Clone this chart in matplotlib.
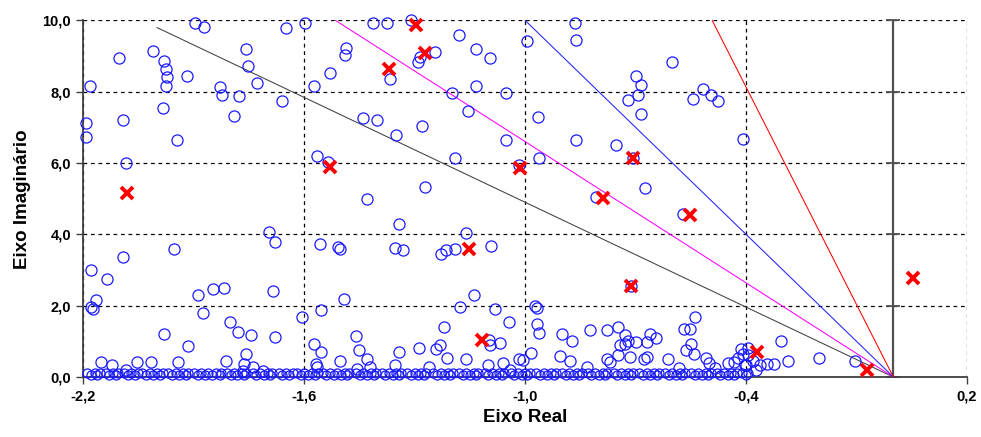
import numpy as np
import matplotlib
matplotlib.use("Agg")
import matplotlib.pyplot as plt
from matplotlib.ticker import FuncFormatter

# ======================
# dados
# ======================
circ_x = [-1.898, -1.873, -1.650, -1.598, -2.010, -2.104, -1.982, -1.977, -1.973, -1.975,
          -1.918, -1.758, -1.752, -1.729, -2.182, -1.828, -1.824, -1.777, -1.660, -1.983,
          -1.792, -2.093, -2.193, -2.192, -1.945,
          -1.414, -1.376, -1.309, -1.180, -0.995, -1.486, -1.490, -1.246, -1.285, -1.291,
          -1.135, -1.097, -1.529, -1.366, -1.574, -1.133, -1.198, -1.053, -1.156, -1.442,
          -1.403, -1.280, -1.351, -1.053,
          -0.865, -0.863, -0.601, -0.698, -0.686, -0.695, -0.722, -0.517, -0.496, -0.475,
          -0.544, -0.686, -0.965, -0.861, -0.408,
          -2.085, -1.697, -1.681, -2.093, -1.953,
          -1.566, -1.536, -1.192, -1.017, -1.271, -1.431, -1.344, -1.162, -1.558, -1.509,
          -1.504, -1.355, -1.332, -1.228, -1.214, -1.192, -1.092,
          -0.754, -0.963, -0.707, -0.675, -0.809, -0.571,
          -2.180, -2.136, -2.165, -2.179, -2.175, -1.889, -1.847, -1.817, -1.686, -1.876,
          -1.803, -1.781, -1.745, -1.680, -1.607, -1.982, -1.916, -2.152, -2.122, -2.054,
          -2.016, -1.944, -2.084, -1.812, -1.758, -1.763, -1.740, -1.711, -1.767,
          -1.555, -1.493, -1.138, -1.176, -1.081, -1.043, -1.221, -1.461, -1.574, -1.554,
          -1.452, -1.431, -1.343, -1.289, -1.243, -1.231, -1.213, -1.162, -1.502, -1.569,
          -1.566, -1.457, -1.423, -1.355, -1.262, -1.099, -1.097, -1.068, -1.102, -1.061,
          -1.017, -1.041,
          -0.713, -0.974, -0.967, -0.967, -0.963, -0.900, -0.874, -0.825, -0.777, -0.748,
          -0.730, -0.722, -0.728, -0.700, -0.662, -0.644, -0.668, -0.568, -0.553, -0.538,
          -0.551, -0.562, -0.541, -0.983, -1.005, -0.906, -0.879, -0.831, -0.779, -0.770,
          -0.748, -0.716, -0.677, -0.668, -0.743, -0.612, -0.581, -0.508, -0.502, -0.484,
          -0.449, -0.433, -0.413, -0.408, -0.422, -0.404,
          -0.306, -0.394, -0.394, -0.380, -0.362, -0.344, -0.324, -0.372, -0.399, -0.285,
          -0.201, -0.105]
circ_y = [9.94, 9.83, 9.80, 9.94, 9.14, 8.95, 8.85, 8.65, 8.41, 8.15,
          8.45, 9.21, 8.71, 8.26, 8.16, 8.13, 7.92, 7.88, 7.74, 7.55,
          7.33, 7.22, 7.13, 6.74, 6.64,
          9.93, 9.93, 10.0, 9.58, 9.43, 9.24, 9.04, 9.11, 8.97, 8.83,
          9.19, 8.96, 8.52, 8.37, 8.16, 8.16, 7.96, 7.96, 7.45, 7.27,
          7.22, 7.03, 6.79, 6.64,
          9.94, 9.44, 8.83, 8.43, 8.20, 7.90, 7.78, 8.07, 7.90, 7.74,
          7.81, 7.39, 7.29, 6.64, 6.67,
          6.00, 4.07, 3.79, 3.38, 3.60,
          6.20, 6.03, 6.15, 5.94, 5.33, 5.00, 4.29, 4.05, 3.72, 3.65,
          3.59, 3.62, 3.56, 3.46, 3.56, 3.60, 3.68,
          6.50, 6.13, 6.13, 5.31, 5.05, 4.56,
          3.00, 2.75, 2.16, 1.97, 1.92, 2.30, 2.46, 2.51, 2.42, 1.80,
          1.55, 1.25, 1.18, 1.13, 1.69, 1.20, 0.88, 0.41, 0.34, 0.41,
          0.41, 0.41, 0.20, 0.46, 0.64, 0.36, 0.29, 0.18, 0.17,
          1.88, 2.18, 2.30, 1.97, 1.90, 1.55, 1.39, 1.16, 0.92, 0.71,
          0.76, 0.50, 0.71, 0.80, 0.78, 0.90, 0.54, 0.50, 0.45, 0.36,
          0.29, 0.22, 0.29, 0.34, 0.29, 1.04, 0.90, 0.94, 0.34, 0.38,
          0.50, 0.20,
          2.56, 2.00, 1.94, 1.50, 1.24, 1.20, 1.01, 1.32, 1.32, 1.41,
          1.18, 1.01, 0.92, 0.97, 1.22, 1.10, 0.97, 1.36, 1.36, 1.67,
          0.92, 0.76, 0.64, 0.68, 0.48, 0.60, 0.45, 0.29, 0.50, 0.41,
          0.62, 0.57, 0.50, 0.57, 0.90, 0.50, 0.24, 0.52, 0.38, 0.24,
          0.38, 0.43, 0.78, 0.64, 0.52, 0.34,
          1.01, 0.80, 0.62, 0.45, 0.34, 0.36, 0.36, 0.20, 0.34, 0.45,
          0.52, 0.45]

# faixa densa de polos quase sobre o eixo real (duas fileiras sobrepostas)
faixa_x = [-2.19, -2.17, -2.155, -2.14, -2.12, -2.105, -2.09, -2.07, -2.052, -2.04,
           -2.02, -2.00, -1.985, -1.97, -1.95, -1.93, -1.915, -1.90, -1.88, -1.862,
           -1.84, -1.826, -1.81, -1.79, -1.77, -1.758, -1.74, -1.72, -1.70, -1.688,
           -1.67, -1.65, -1.632, -1.62, -1.60, -1.58, -1.563, -1.55, -1.53, -1.51,
           -1.49, -1.478, -1.46, -1.44, -1.42, -1.405, -1.39, -1.37, -1.35, -1.338,
           -1.32, -1.30, -1.282, -1.27, -1.25, -1.23, -1.21, -1.197, -1.18, -1.16,
           -1.14, -1.128, -1.11, -1.09, -1.07, -1.058, -1.04, -1.02, -1.00, -0.988,
           -0.97, -0.95, -0.93, -0.917, -0.90, -0.88, -0.86, -0.847, -0.83, -0.81,
           -0.79, -0.777, -0.76, -0.74, -0.72, -0.706, -0.69, -0.67, -0.65, -0.637,
           -0.62, -0.60, -0.58, -0.567, -0.55, -0.53, -0.51, -0.496, -0.48, -0.46,
           -0.44, -0.426, -0.41, -0.395]
faixa2_x = [-2.18, -2.162, -2.13, -2.113, -2.08, -2.061, -2.03, -2.011, -1.992, -1.96,
            -1.94, -1.922, -1.89, -1.871, -1.85, -1.83, -1.80, -1.783, -1.765, -1.73,
            -1.71, -1.693, -1.66, -1.641, -1.61, -1.59, -1.57, -1.54, -1.52, -1.50,
            -1.485, -1.45, -1.43, -1.412, -1.38, -1.36, -1.344, -1.31, -1.29, -1.275,
            -1.24, -1.22, -1.204, -1.17, -1.15, -1.133, -1.10, -1.08, -1.063, -1.03,
            -1.01, -0.994, -0.96, -0.94, -0.923, -0.89, -0.87, -0.853, -0.82, -0.80,
            -0.784, -0.75, -0.73, -0.712, -0.68, -0.66, -0.643, -0.61, -0.59, -0.573,
            -0.54, -0.52, -0.503, -0.47, -0.45, -0.432, -0.40]
faixa_y = 0.12
faixa2_y = 0.06

cruz_x = [-2.081, -1.529, -1.370, -1.298, -1.273, -1.153, -1.117, -1.015, -0.788, -0.707,
          -0.713, -0.553, -0.370, -0.071, 0.054]
cruz_y = [5.16, 5.89, 8.65, 9.86, 9.09, 3.60, 1.04, 5.87, 5.02, 6.13,
          2.56, 4.54, 0.71, 0.20, 2.78]

# retas de amortecimento: da origem ate o ponto final
reta_x_fim = [-2.0, -1.515, -1.0, -0.492]
reta_y_fim = [9.8, 10.0, 10.0, 10.0]
reta_cores = ["#404040", "#ff00ff", "#2020ff", "#ff0000"]

x_ticks = [-2.2, -1.6, -1.0, -0.4, 0.2]
y_ticks = [0, 2, 4, 6, 8, 10]


def virgula(v, pos):
    return ("%.1f" % v).replace(".", ",")


plt.rcParams['font.family'] = ['Liberation Sans', 'DejaVu Sans']

fig = plt.figure(figsize=(9.81, 4.37), dpi=100)
ax = fig.add_axes([0.0851, 0.1373, 0.9006, 0.8158])

ax.set_xlim(-2.2, 0.2)
ax.set_ylim(0, 10)
ax.set_xticks(x_ticks)
ax.set_yticks(y_ticks)
ax.xaxis.set_major_formatter(FuncFormatter(virgula))
ax.yaxis.set_major_formatter(FuncFormatter(virgula))
ax.grid(True, color="black", linestyle=(0, (3, 3)), linewidth=0.9)
ax.set_axisbelow(True)

for s in ["top", "right"]:
    ax.spines[s].set_visible(False)
for s in ["left", "bottom"]:
    ax.spines[s].set_color("#404040")
    ax.spines[s].set_linewidth(1.3)
ax.tick_params(axis="both", direction="out", length=5, width=1, color="#404040",
               labelsize=10.5, pad=4)
for lbl in ax.get_xticklabels() + ax.get_yticklabels():
    lbl.set_fontweight("bold")

# eixo vertical em x = 0
ax.axvline(0, color="#505050", linewidth=1.6, zorder=2)
ax.plot(np.zeros(len(y_ticks)), y_ticks, linestyle="none", marker="_", markersize=10,
        markeredgewidth=1.3, color="#505050", zorder=2, clip_on=False)

for xf, yf, c in zip(reta_x_fim, reta_y_fim, reta_cores):
    ax.plot([0, xf], [0, yf], color=c, linewidth=0.75, zorder=3)

estilo_circ = dict(linestyle="none", marker="o", markerfacecolor="none",
                   markeredgecolor="#1a1aff", markeredgewidth=0.9, zorder=4,
                   clip_on=False)
ax.plot(faixa_x, np.full(len(faixa_x), faixa_y), markersize=6.5, **estilo_circ)
ax.plot(faixa2_x, np.full(len(faixa2_x), faixa2_y), markersize=6.5, **estilo_circ)
ax.plot(circ_x, circ_y, markersize=8, **estilo_circ)
ax.plot(cruz_x, cruz_y, linestyle="none", marker="x", markersize=9,
        markeredgecolor="#ff0000", markeredgewidth=2.8, zorder=5, clip_on=False)

ax.set_xlabel("Eixo Real", fontsize=13.5, fontweight="bold", labelpad=4)
ax.set_ylabel("Eixo Imaginário", fontsize=13.5, fontweight="bold", labelpad=8)

fig.savefig("out.png", dpi=100)
